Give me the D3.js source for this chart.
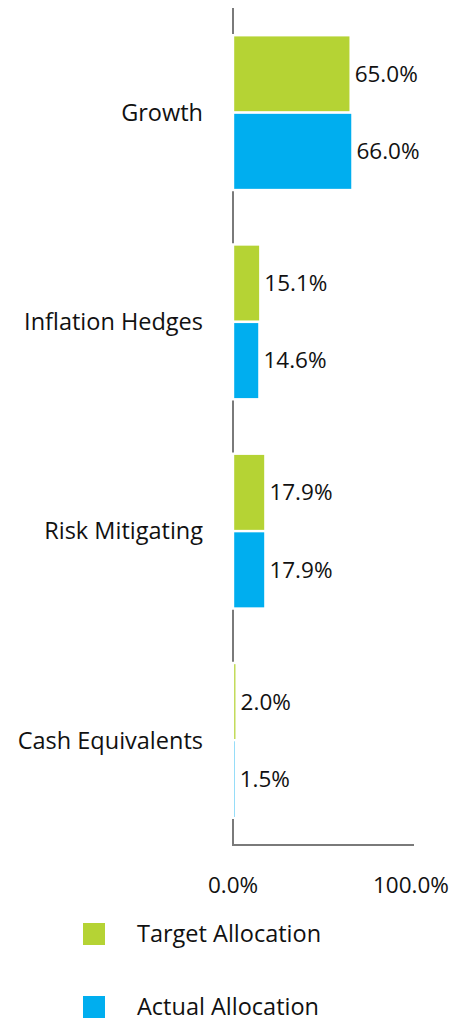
<!DOCTYPE html>
<html>
<head>
<meta charset="utf-8">
<script src="https://cdn.jsdelivr.net/npm/d3@7"></script>
<style>
  body { margin: 0; background: #fff; }
  text { font-family: "Open Sans", "Lato", sans-serif; fill: #111; }
</style>
</head>
<body>
<div id="chart"></div>
<script>
var categories = ["Growth", "Inflation Hedges", "Risk Mitigating", "Cash Equivalents"]
var target = [65.0, 15.1, 17.9, 2.0]
var actual = [66.0, 14.6, 17.9, 1.5]
var series = ["Target Allocation", "Actual Allocation"]
var tickValues = [0, 100]

var width = 449
    height = 1023
var x0 = 233, x1 = 414, y0 = 8, y1 = 845

var svg = d3.select("#chart")
            .append("svg")
            .attr("width", width)
            .attr("height", height)

var x = d3.scaleLinear().domain([0, 100]).range([x0, x1])

var y = d3.scaleBand()
          .domain(categories)
          .range([y0, y1])
          .paddingInner(0.26)
          .paddingOuter(0.13)

var ySub = d3.scaleBand()
             .domain(series)
             .range([0, y.bandwidth()])

var color = d3.scaleOrdinal()
              .domain(series)
              .range(["#b5d334", "#00aeef"])

var rows = categories.map(function(c, i) {
  return { cat: c, values: [
    { key: series[0], v: target[i] },
    { key: series[1], v: actual[i] }
  ]}
})

// axis lines
svg.append("line")
   .attr("x1", x0).attr("x2", x0)
   .attr("y1", y0).attr("y2", y1)
   .attr("stroke", "#7a7a7a").attr("stroke-width", 2)
svg.append("line")
   .attr("x1", x0 - 1).attr("x2", x1)
   .attr("y1", y1).attr("y2", y1)
   .attr("stroke", "#7a7a7a").attr("stroke-width", 2)

var groups = svg.selectAll(".cat")
                .data(rows)
                .enter().append("g")
                .attr("class", "cat")
                .attr("transform", function(d) { return "translate(0," + y(d.cat) + ")" })

groups.selectAll("rect")
      .data(function(d) { return d.values })
      .enter().append("rect")
      .attr("x", x(0))
      .attr("y", function(d) { return ySub(d.key) })
      .attr("width", function(d) { return x(d.v) - x(0) })
      .attr("height", ySub.bandwidth())
      .attr("fill", function(d) { return color(d.key) })
      .attr("stroke", "#fff")
      .attr("stroke-width", 2.4)

groups.selectAll(".val")
      .data(function(d) { return d.values })
      .enter().append("text")
      .attr("class", "val")
      .attr("x", function(d) { return x(d.v) + 4 })
      .attr("y", function(d) { return ySub(d.key) + ySub.bandwidth() / 2 })
      .attr("dy", "0.35em")
      .attr("font-size", "22.5px")
      .text(function(d) { return d.v.toFixed(1) + "%" })

groups.append("text")
      .attr("x", 203)
      .attr("y", y.bandwidth() / 2)
      .attr("dy", "0.35em")
      .attr("text-anchor", "end")
      .attr("font-size", "23.5px")
      .text(function(d) { return d.cat })

svg.selectAll(".tick")
   .data(tickValues)
   .enter().append("text")
   .attr("class", "tick")
   .attr("x", function(d) { return x(d) - (d ? 3 : 0) })
   .attr("y", 885)
   .attr("dy", "0.35em")
   .attr("text-anchor", "middle")
   .attr("font-size", "22.5px")
   .text(function(d) { return d.toFixed(1) + "%" })

var legend = svg.selectAll(".legend")
                .data(series)
                .enter().append("g")
                .attr("class", "legend")
                .attr("transform", function(d, i) { return "translate(83," + (923 + i * 73) + ")" })

legend.append("rect")
      .attr("width", 22).attr("height", 22)
      .attr("fill", function(d) { return color(d) })

legend.append("text")
      .attr("x", 54)
      .attr("y", 11)
      .attr("dy", "0.35em")
      .attr("font-size", "23.5px")
      .text(function(d) { return d })
</script>
</body>
</html>
